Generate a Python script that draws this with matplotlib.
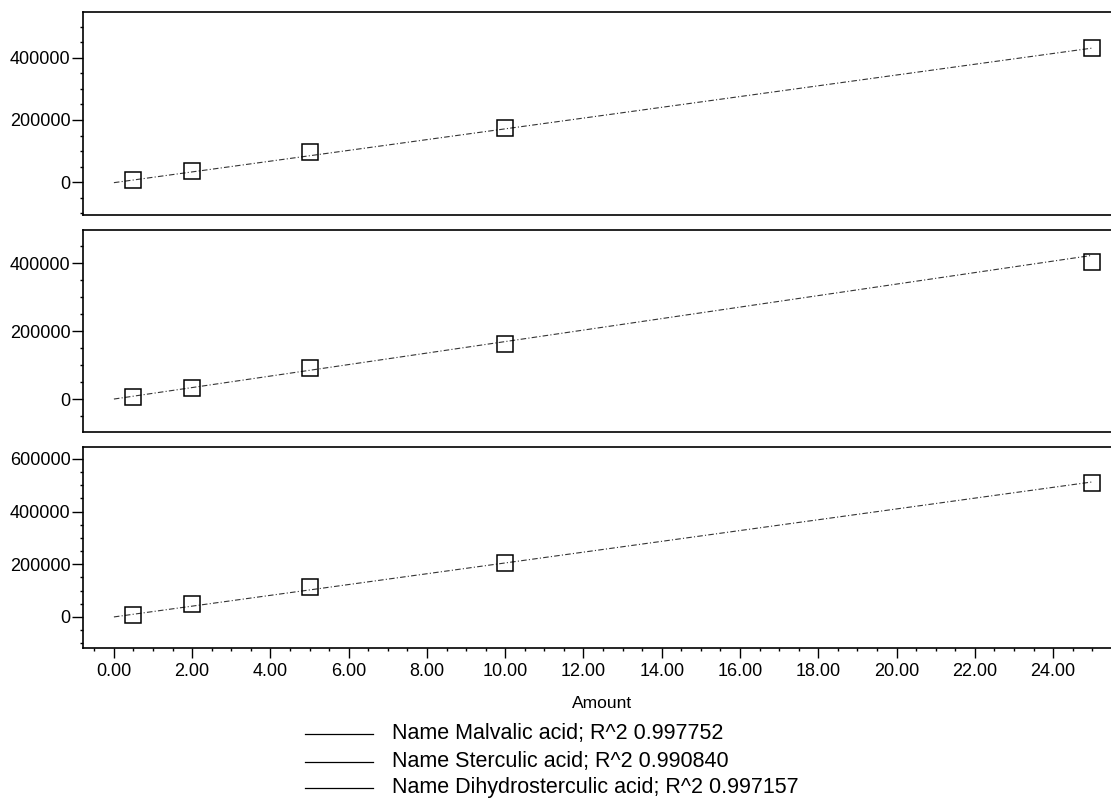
import numpy as np
import matplotlib
matplotlib.use("Agg")
from matplotlib import pyplot as plt
from matplotlib.lines import Line2D
from matplotlib.ticker import MultipleLocator, FormatStrFormatter

plt.rcParams['font.family'] = ['Liberation Sans', 'DejaVu Sans']

# 标准浓度 (Amount)
amount = [0.5, 2.0, 5.0, 10.0, 25.0]

# 三种脂肪酸的响应值
malvalic = [6500, 35500, 97000, 174000, 432000]
sterculic = [6000, 32000, 91000, 162000, 403000]
dihydro = [7600, 49000, 114000, 205000, 508000]

# 校准曲线 (斜率, 截距)
fits = [(17350, -2000), (16900, 0), (20500, 0)]

names = ["Malvalic acid", "Sterculic acid", "Dihydrosterculic acid"]
r2 = ["0.997752", "0.990840", "0.997157"]

series = [malvalic, sterculic, dihydro]
ylims = [(-106000, 548000), (-97000, 497000), (-118000, 645000)]
# 每个子图的位置 [left, bottom, width, height]
boxes = [[0.0747, 0.732, 0.9253, 0.253],
         [0.0747, 0.4613, 0.9253, 0.2519],
         [0.0747, 0.192, 0.9253, 0.2506]]

fig = plt.figure(figsize=(11.11, 8.02), dpi=100)

for i in range(3):
    ax = fig.add_axes(boxes[i])
    ax.set_xlim(-0.79, 25.48)
    ax.set_ylim(*ylims[i])
    # 拟合直线
    xf = np.array([0.0, 25.0])
    slope, icpt = fits[i]
    ax.plot(xf, slope * xf + icpt, color='#333333', lw=0.8,
            linestyle=(0, (5, 2, 1, 2)))
    # 数据点
    ax.plot(amount, series[i], linestyle='none', marker='s', ms=12,
            mfc='none', mec='black', mew=1.1, clip_on=False)
    ax.spines['right'].set_visible(False)
    for s in ['top', 'bottom', 'left']:
        ax.spines[s].set_linewidth(1.2)
    ax.yaxis.set_major_locator(MultipleLocator(200000))
    ax.yaxis.set_minor_locator(MultipleLocator(50000))
    ax.yaxis.set_major_formatter(FormatStrFormatter('%d'))
    ax.tick_params(axis='y', which='major', length=8, width=1, pad=1,
                   labelsize=13)
    ax.tick_params(axis='y', which='minor', length=2.5, width=1)
    if i < 2:
        ax.tick_params(axis='x', which='both', bottom=False, labelbottom=False)
    else:
        ax.xaxis.set_major_locator(MultipleLocator(2))
        ax.xaxis.set_minor_locator(MultipleLocator(0.5))
        ax.xaxis.set_major_formatter(FormatStrFormatter('%.2f'))
        ax.tick_params(axis='x', which='major', length=7.5, width=1, pad=3,
                       labelsize=13)
        ax.tick_params(axis='x', which='minor', length=2.5, width=1)

fig.text(0.542, 1 - 703 / 802, "Amount", ha='center', va='center', fontsize=12.5)

# 图例
rows = [734, 762, 788]
for i in range(3):
    y = 1 - rows[i] / 802
    fig.add_artist(Line2D([305 / 1111, 373 / 1111], [y, y], color='black',
                          lw=0.9, transform=fig.transFigure))
    fig.text(392 / 1111, y, "Name %s; R^2 %s" % (names[i], r2[i]),
             ha='left', va='center', fontsize=15.5)

fig.savefig("out.png", dpi=100)
